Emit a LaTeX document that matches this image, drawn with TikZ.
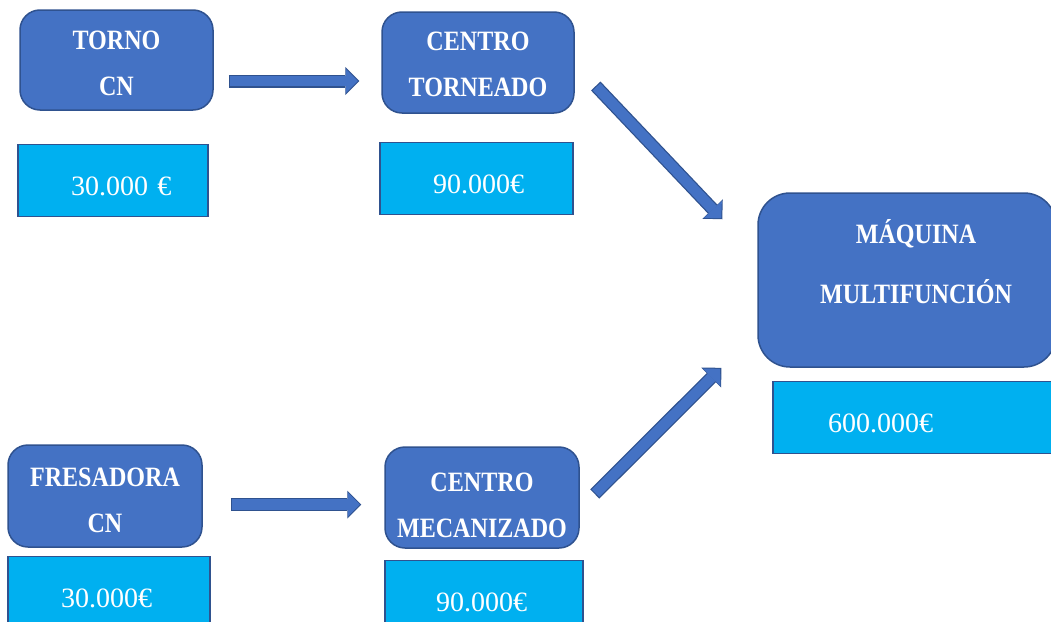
\documentclass[tikz,border=0pt]{standalone}
\usepackage{fontspec}
\usetikzlibrary{positioning,arrows.meta}
\newfontfamily\etiq{Liberation Serif}[FakeStretch=0.86]
\newfontfamily\cifra{Liberation Serif}
\definecolor{azulcaja}{HTML}{4472C4}
\definecolor{bordeazul}{HTML}{2F528F}
\definecolor{celeste}{HTML}{00B0F0}

\begin{document}
\begin{tikzpicture}[x=1pt,y=-1pt,
  main box/.style={draw=bordeazul,fill=azulcaja,line width=1.5pt,rounded corners=20pt,inner sep=0pt},
  box text/.style={text=white,align=center,inner sep=0pt,font=\etiq\bfseries\fontsize{28}{46}\selectfont},
  price box/.style={draw=bordeazul,fill=celeste,line width=1.5pt,inner sep=0pt,
    minimum height=72pt,text width=#1,align=left,text height=29pt,text depth=0pt,
    text=white,font=\cifra\fontsize{28}{34}\selectfont},
  block arrow/.style={
    preaction={draw=bordeazul,line width=13pt,shorten >=0pt,shorten <=0pt,
      -{Triangle[length=14pt,width=28pt,line width=0pt]}},
    draw=azulcaja,line width=10.5pt,shorten >=1.5pt,shorten <=1.2pt,
    -{Triangle[length=12pt,width=24.5pt,line width=0pt]}}]
  \useasboundingbox (0,0) rectangle (1051,621);
  \node[main box,minimum width=193pt,minimum height=100pt,
    label={[box text,yshift=-3pt]center:TORNO\\CN}] (torno_cn) at (116.5,60) {};
  \node[main box,minimum width=192pt,minimum height=101pt,
    label={[box text,yshift=-2pt]center:CENTRO\\TORNEADO}] (centro_torn) at (478,62.5) {};
  \node[main box,minimum width=194pt,minimum height=102pt,
    label={[box text,yshift=-4.5pt]center:FRESADORA\\CN}] (fresa_cn) at (105,496) {};
  \node[main box,minimum width=194pt,minimum height=101pt,
    label={[box text,yshift=-7.5pt]center:CENTRO\\MECANIZADO}] (centro_mec) at (482,497.5) {};
  \node[main box,rounded corners=32pt,minimum width=298pt,minimum height=174pt,
    label={[box text,font=\etiq\bfseries\fontsize{28}{60}\selectfont,
      xshift=9pt,yshift=18pt]center:MÁQUINA\\MULTIFUNCIÓN}] (maquina) at (907,280) {};
  \node[price box=190pt] (precio_torno) [below=33pt of torno_cn,xshift=-3.5pt] {\hspace*{53pt}30.000 €};
  \node[price box=193pt] (precio_ctorn) [below=28pt of centro_torn,xshift=-1.5pt] {\hspace*{53pt}90.000€};
  \node[price box=202pt] (precio_fresa) [below=8pt of fresa_cn,xshift=4pt] {\hspace*{53pt}30.000€};
  \node[price box=198pt] (precio_cmec) [below=11pt of centro_mec,xshift=2pt] {\hspace*{51pt}90.000€};
  \node[price box=287pt] (precio_maq) [below=13pt of maquina,xshift=9.5pt] {\hspace*{55pt}600.000€};
  \draw[block arrow] ([shift={(15,21)}]torno_cn.east) -- ([shift={(-22,18.5)}]centro_torn.west);
  \draw[block arrow] ([shift={(28,8.5)}]fresa_cn.east) -- ([shift={(-23,7)}]centro_mec.west);
  \draw[block arrow] ([shift={(21,23.5)}]centro_torn.east) -- ([shift={(-35,27)}]maquina.north west);
  \draw[block arrow] ([shift={(15,-3.5)}]centro_mec.east) -- ([shift={(-36,0)}]maquina.south west);
\end{tikzpicture}
\end{document}
